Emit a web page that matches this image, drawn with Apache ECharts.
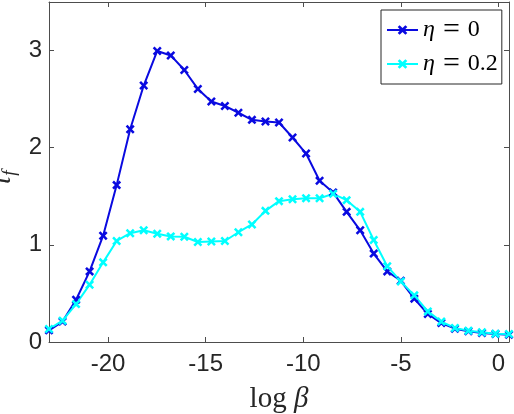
<!DOCTYPE html>
<html>
<head>
<meta charset="utf-8">
<script src="https://cdn.jsdelivr.net/npm/echarts@6/dist/echarts.min.js"></script>
<style>html,body{margin:0;padding:0;background:#fff}#c{width:514px;height:414px}</style>
</head>
<body>
<div id="c"></div>
<script>
// x = log(beta)
var logBeta = [-23.026,-22.333,-21.640,-20.946,-20.253,-19.560,-18.867,-18.174,-17.481,-16.788,-16.094,-15.401,-14.708,-14.015,-13.322,-12.629,-11.936,-11.242,-10.549,-9.856,-9.163,-8.470,-7.777,-7.083,-6.390,-5.697,-5.004,-4.311,-3.618,-2.925,-2.231,-1.538,-0.845,-0.152,0.541];
var tauEta0 = [0.12,0.21,0.435,0.727,1.094,1.615,2.19,2.64,2.996,2.95,2.80,2.605,2.475,2.43,2.36,2.287,2.27,2.26,2.105,1.94,1.66,1.54,1.34,1.15,0.91,0.727,0.63,0.446,0.288,0.195,0.137,0.11,0.093,0.082,0.075];
var tauEta02 = [0.134,0.22,0.39,0.59,0.82,1.04,1.12,1.15,1.114,1.087,1.083,1.03,1.035,1.04,1.13,1.21,1.35,1.45,1.47,1.48,1.48,1.525,1.46,1.34,1.05,0.78,0.624,0.48,0.315,0.21,0.144,0.117,0.1,0.086,0.082];
var xTicks = [-20,-15,-10,-5,0];
var yTicks = [0,1,2,3];
var seriesNames = ['η = 0','η = 0.2'];

function pairs(xs, ys){ return xs.map(function(x,i){ return [x, ys[i]]; }); }
var xMark = 'path://M0,2L2,0L5,3L8,0L10,2L7,5L10,8L8,10L5,7L2,10L0,8L3,5Z';
var axisCol = '#4d4d4d';
var xMin = logBeta[0], xMax = logBeta[logBeta.length-1];

var chart = echarts.init(document.getElementById('c'));
var baseX = {
  type:'value', min:xMin, max:xMax,
  axisLine:{show:true,onZero:false,lineStyle:{color:axisCol,width:1}},
  axisTick:{show:true,inside:true,length:5,customValues:xTicks,lineStyle:{color:axisCol}},
  splitLine:{show:false}
};
var baseY = {
  type:'value', min:0, max:3.5,
  axisLine:{show:true,onZero:false,lineStyle:{color:axisCol,width:1}},
  axisTick:{show:true,inside:true,length:5,customValues:yTicks,lineStyle:{color:axisCol}},
  splitLine:{show:false}
};
chart.setOption({
  animation:false,
  grid:{left:49,right:5,top:2,bottom:72,containLabel:false,outerBoundsMode:'none'},
  legend:{
    left:381, top:10, orient:'vertical',
    backgroundColor:'#fff', borderColor:'#262626', borderWidth:1,
    padding:[4,4,4,5], itemGap:2, itemWidth:31, itemHeight:12,
    data:seriesNames,
    formatter:function(n){
      var parts = n.split(' = ');
      return '{i|η}{s| }{e|=}{s| }{r|' + parts[1] + '}';
    },
    textStyle:{
      color:'#000', fontSize:24, fontFamily:'Liberation Serif', lineHeight:26,
      rich:{
        i:{fontFamily:'Liberation Serif',fontStyle:'italic',fontSize:24,lineHeight:26,color:'#000'},
        s:{fontFamily:'Liberation Serif',fontSize:32,lineHeight:26,color:'#000'},
        e:{fontFamily:'Liberation Serif',fontSize:30,lineHeight:26,color:'#000'},
        r:{fontFamily:'Liberation Serif',fontSize:24,lineHeight:26,color:'#000'}
      }
    }
  },
  xAxis:[
    Object.assign({}, baseX, {
      position:'bottom',
      axisLabel:{show:true,customValues:xTicks,margin:10,fontFamily:'Liberation Sans',fontSize:24,color:'#262626'},
      name:'{r|log}{i| β}', nameLocation:'middle', nameGap:43, nameMoveOverlap:false,
      nameTextStyle:{rich:{
        r:{fontFamily:'Liberation Serif',fontSize:29,color:'#262626'},
        i:{fontFamily:'Liberation Serif',fontStyle:'italic',fontSize:29,color:'#262626'}
      }}
    }),
    Object.assign({}, baseX, {position:'top', axisLabel:{show:false}})
  ],
  yAxis:[
    Object.assign({}, baseY, {
      position:'left',
      axisLabel:{show:true,customValues:yTicks,margin:7,fontFamily:'Liberation Sans',fontSize:24,color:'#262626'},
      name:'{i|τ}{s|f}', nameLocation:'middle', nameGap:30, nameRotate:90, nameMoveOverlap:false,
      nameTextStyle:{lineHeight:30, padding:[0,12,0,0], rich:{
        i:{fontFamily:'Liberation Serif',fontStyle:'italic',fontSize:28,lineHeight:30,color:'#262626',verticalAlign:'top'},
        s:{fontFamily:'Liberation Serif',fontStyle:'italic',fontSize:19,lineHeight:20,color:'#262626',verticalAlign:'bottom'}
      }}
    }),
    Object.assign({}, baseY, {position:'right', axisLabel:{show:false}})
  ],
  series:[
    {name:seriesNames[0], type:'line', data:pairs(logBeta,tauEta0), xAxisIndex:0, yAxisIndex:0,
     symbol:xMark, symbolSize:9, showAllSymbol:true,
     lineStyle:{color:'#0a0ae0',width:2}, itemStyle:{color:'#0a0ae0'}},
    {name:seriesNames[1], type:'line', data:pairs(logBeta,tauEta02), xAxisIndex:0, yAxisIndex:0,
     symbol:xMark, symbolSize:9, showAllSymbol:true,
     lineStyle:{color:'#00ffff',width:2}, itemStyle:{color:'#00ffff'}}
  ]
});
</script>
</body>
</html>
